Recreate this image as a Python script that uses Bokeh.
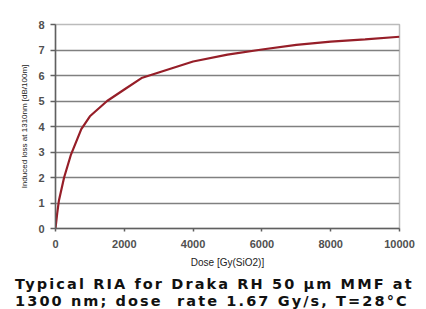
from bokeh.plotting import figure
from bokeh.models import Range1d, SingleIntervalTicker, Div
from bokeh.layouts import column
from bokeh.embed import file_html
from bokeh.resources import INLINE

dose = [0, 50, 100, 250, 450, 750, 1000, 1500, 2000, 2500, 3000, 4000, 5000, 6000, 7000, 8000, 9000, 10000]
loss = [0, 0.6, 1.1, 2.0, 2.9, 3.9, 4.4, 5.0, 5.45, 5.9, 6.12, 6.55, 6.82, 7.02, 7.2, 7.33, 7.42, 7.52]

caption1 = "Typical RIA for Draka RH 50 µm MMF at"
caption2 = "1300 nm; dose  rate 1.67 Gy/s, T=28°C"

p = figure(width=415, height=266, output_backend="svg", toolbar_location=None,
           x_range=Range1d(0, 10000), y_range=Range1d(0, 8),
           min_border_left=45, min_border_right=26, min_border_top=15, min_border_bottom=47,
           margin=(9, 0, 0, 10))

p.outline_line_color = "#bbbbbb"
p.outline_line_width = 1.5

p.line(dose, loss, line_color="#961e28", line_width=2.2)

p.xgrid.grid_line_color = None
p.ygrid.grid_line_color = "#808080"
p.ygrid.grid_line_width = 1.5
p.ygrid.grid_line_alpha = 1

p.yaxis.ticker = SingleIntervalTicker(interval=1)
p.xaxis.ticker = SingleIntervalTicker(interval=2000)
p.yaxis.minor_tick_line_color = None
p.xaxis.minor_tick_line_color = None

for ax in (p.xaxis[0], p.yaxis[0]):
    ax.axis_line_color = "#606060"
    ax.axis_line_width = 1.5
    ax.major_tick_line_color = "#606060"
    ax.major_tick_line_width = 1.5
    ax.major_tick_in = 0
    ax.major_label_text_font = "Liberation Sans"
    ax.major_label_text_font_style = "bold"
    ax.major_label_text_color = "#505050"
    ax.axis_label_text_font = "Liberation Sans"
    ax.axis_label_text_font_style = "normal"
    ax.axis_label_text_color = "#222222"

p.yaxis.major_tick_out = 5
p.xaxis.major_tick_out = 3
p.yaxis.major_label_text_font_size = "11px"
p.xaxis.major_label_text_font_size = "11px"
p.yaxis.major_label_standoff = 6
p.xaxis.major_label_standoff = 7

p.xaxis.axis_label = "Dose [Gy(SiO2)]"
p.xaxis.axis_label_text_font_size = "10px"
p.xaxis.axis_label_standoff = 6
p.yaxis.axis_label = "Induced loss at 1310nm [dB/100m]"
p.yaxis.axis_label_text_font_size = "8px"
p.yaxis.axis_label_standoff = 6

cap = Div(text=caption1 + "<br>" + caption2, width=411, height=33, margin=(1, 0, 0, 15),
          styles={"font-family": "DejaVu Sans", "font-weight": "bold",
                  "font-size": "14.5px", "line-height": "16.5px",
                  "letter-spacing": "2.1px", "white-space": "pre",
                  "color": "#111111"})

layout = column(p, cap, spacing=0)

open("out.html", "w").write(file_html(layout, INLINE))
